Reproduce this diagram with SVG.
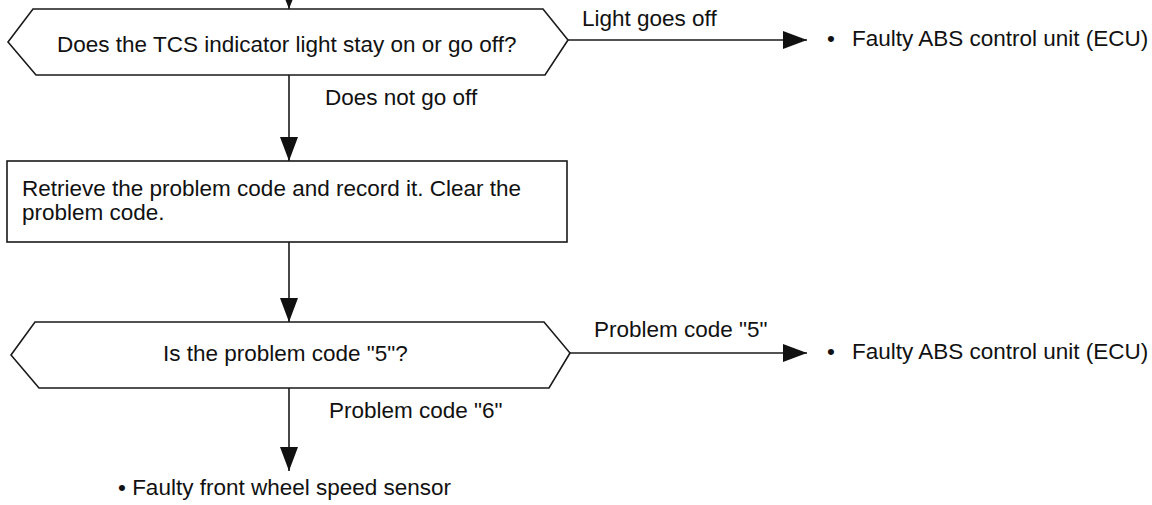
<svg xmlns="http://www.w3.org/2000/svg" width="1152" height="505" viewBox="0 0 1152 505">
<style>
.shape{fill:#fff;stroke:#1a1a1a;stroke-width:1.6}
.line{fill:none;stroke:#1a1a1a;stroke-width:1.6}
text{font-family:"Liberation Sans",Arial,sans-serif;font-size:22.5px;fill:#111}
</style>
<defs>
<marker id="arr" markerUnits="userSpaceOnUse" markerWidth="26" markerHeight="18" refX="24" refY="9" orient="auto">
<path d="M0,0 L24,9 L0,18 Z" fill="#111"/>
</marker>
</defs>
<rect width="1152" height="505" fill="#fff"/>
<g id="connectors">
<line class="line" x1="289" y1="0" x2="289" y2="9"/>
<path d="M285.5,0 L292.5,0 L289,9 Z" fill="#111"/>
<line class="line" x1="289" y1="75" x2="289" y2="161" marker-end="url(#arr)"/>
<line class="line" x1="289" y1="242" x2="289" y2="322" marker-end="url(#arr)"/>
<line class="line" x1="289" y1="388" x2="289" y2="471" marker-end="url(#arr)"/>
<line class="line" x1="568" y1="40" x2="807" y2="40" marker-end="url(#arr)"/>
<line class="line" x1="570" y1="353" x2="807" y2="353" marker-end="url(#arr)"/>
<text x="582" y="26">Light goes off</text>
<text x="325" y="105">Does not go off</text>
<text x="594" y="337">Problem code "5"</text>
<text x="329" y="418">Problem code "6"</text>
</g>
<g id="q1">
<polygon class="shape" points="8,42 33,9 543,9 568,40 545,75 36,75"/>
<text x="57" y="52">Does the TCS indicator light stay on or go off?</text>
</g>
<g id="r1">
<text x="827" y="46">•<tspan x="852">Faulty ABS control unit (ECU)</tspan></text>
</g>
<g id="step">
<rect class="shape" x="7" y="161" width="560" height="81"/>
<text x="22" y="196">Retrieve the problem code and record it. Clear the</text>
<text x="22" y="220">problem code.</text>
</g>
<g id="q2">
<polygon class="shape" points="11,355 35,322 544,322 570,353 549,388 39,388"/>
<text x="163" y="361">Is the problem code "5"?</text>
</g>
<g id="r2">
<text x="827" y="359">•<tspan x="852">Faulty ABS control unit (ECU)</tspan></text>
</g>
<g id="r3">
<text x="118" y="495">• Faulty front wheel speed sensor</text>
</g>
</svg>
